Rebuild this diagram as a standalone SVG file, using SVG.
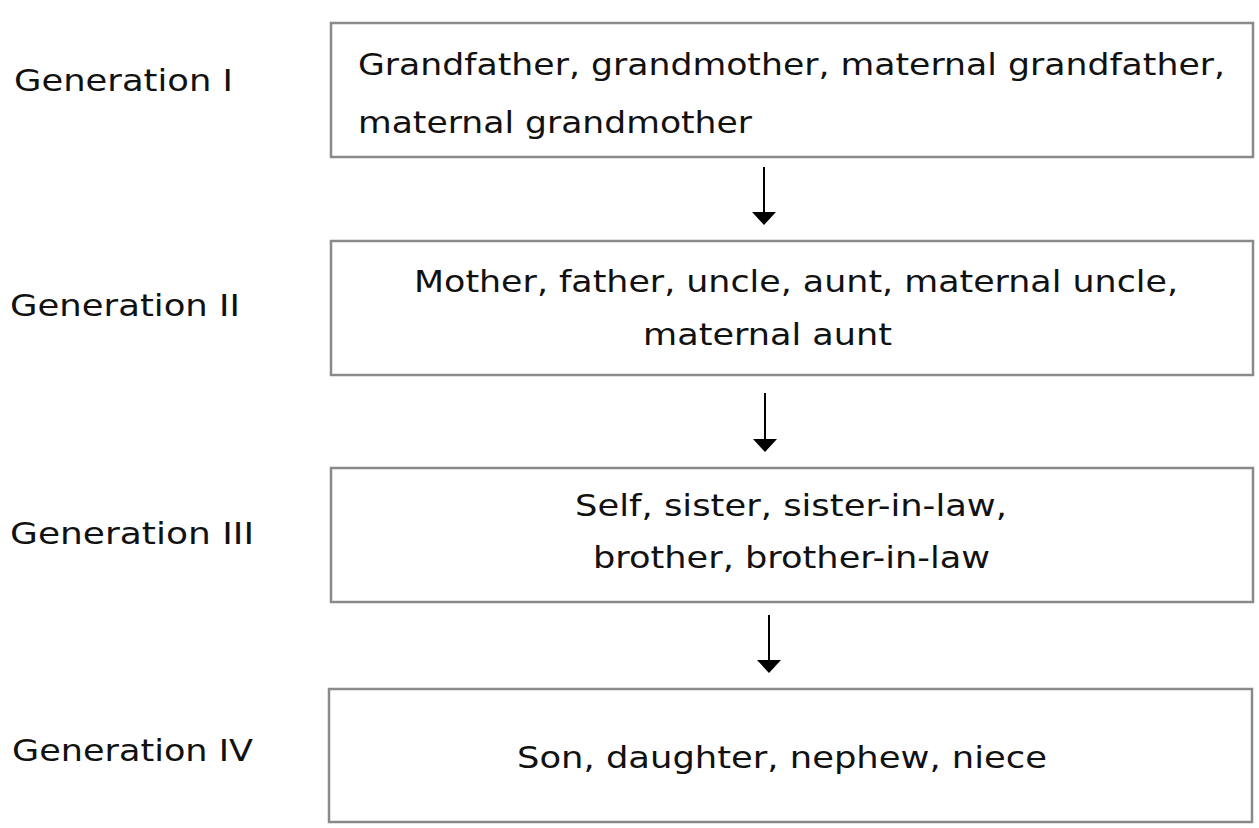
<svg xmlns="http://www.w3.org/2000/svg" width="1259" height="828" viewBox="0 0 1259 828">
  <style>
    .box { fill: #ffffff; stroke: #8a8a8a; stroke-width: 2.5; }
    .t { font-family: "DejaVu Sans", Verdana, sans-serif; font-size: 30px; fill: #111111; }
    .conn { stroke: #000; stroke-width: 2; fill: none; }
  </style>
  <defs>
    <marker id="ah" markerUnits="userSpaceOnUse" markerWidth="14" markerHeight="26" refX="11" refY="13" orient="auto" viewBox="0 0 14 26">
      <path d="M0,1 L13,13 L0,25 Z" fill="#000"/>
    </marker>
  </defs>
  <rect width="1259" height="828" fill="#ffffff"/>

  <g id="label-gen1"><text class="t" x="14" y="91" textLength="219" lengthAdjust="spacingAndGlyphs">Generation I</text></g>
  <g id="label-gen2"><text class="t" x="10" y="316" textLength="230" lengthAdjust="spacingAndGlyphs">Generation II</text></g>
  <g id="label-gen3"><text class="t" x="10" y="544" textLength="244" lengthAdjust="spacingAndGlyphs">Generation III</text></g>
  <g id="label-gen4"><text class="t" x="12" y="761" textLength="241" lengthAdjust="spacingAndGlyphs">Generation IV</text></g>

  <g id="node-gen1">
    <rect class="box" x="331" y="23" width="922" height="134"/>
    <text class="t" x="358" y="75" textLength="867" lengthAdjust="spacingAndGlyphs">Grandfather, grandmother, maternal grandfather,</text>
    <text class="t" x="358" y="133" textLength="394" lengthAdjust="spacingAndGlyphs">maternal grandmother</text>
  </g>
  <g id="node-gen2">
    <rect class="box" x="331" y="241" width="922" height="134"/>
    <text class="t" x="414" y="292" textLength="764" lengthAdjust="spacingAndGlyphs">Mother, father, uncle, aunt, maternal uncle,</text>
    <text class="t" x="643" y="345" textLength="249" lengthAdjust="spacingAndGlyphs">maternal aunt</text>
  </g>
  <g id="node-gen3">
    <rect class="box" x="331" y="468" width="922" height="134"/>
    <text class="t" x="575" y="516" textLength="432" lengthAdjust="spacingAndGlyphs">Self, sister, sister-in-law,</text>
    <text class="t" x="593" y="568" textLength="397" lengthAdjust="spacingAndGlyphs">brother, brother-in-law</text>
  </g>
  <g id="node-gen4">
    <rect class="box" x="329" y="689" width="923" height="133"/>
    <text class="t" x="517" y="768" textLength="530" lengthAdjust="spacingAndGlyphs">Son, daughter, nephew, niece</text>
  </g>

  <g id="connectors">
    <line class="conn" x1="764" y1="167" x2="764" y2="223" marker-end="url(#ah)"/>
    <line class="conn" x1="765" y1="393" x2="765" y2="450" marker-end="url(#ah)"/>
    <line class="conn" x1="769" y1="615" x2="769" y2="671" marker-end="url(#ah)"/>
  </g>
</svg>
